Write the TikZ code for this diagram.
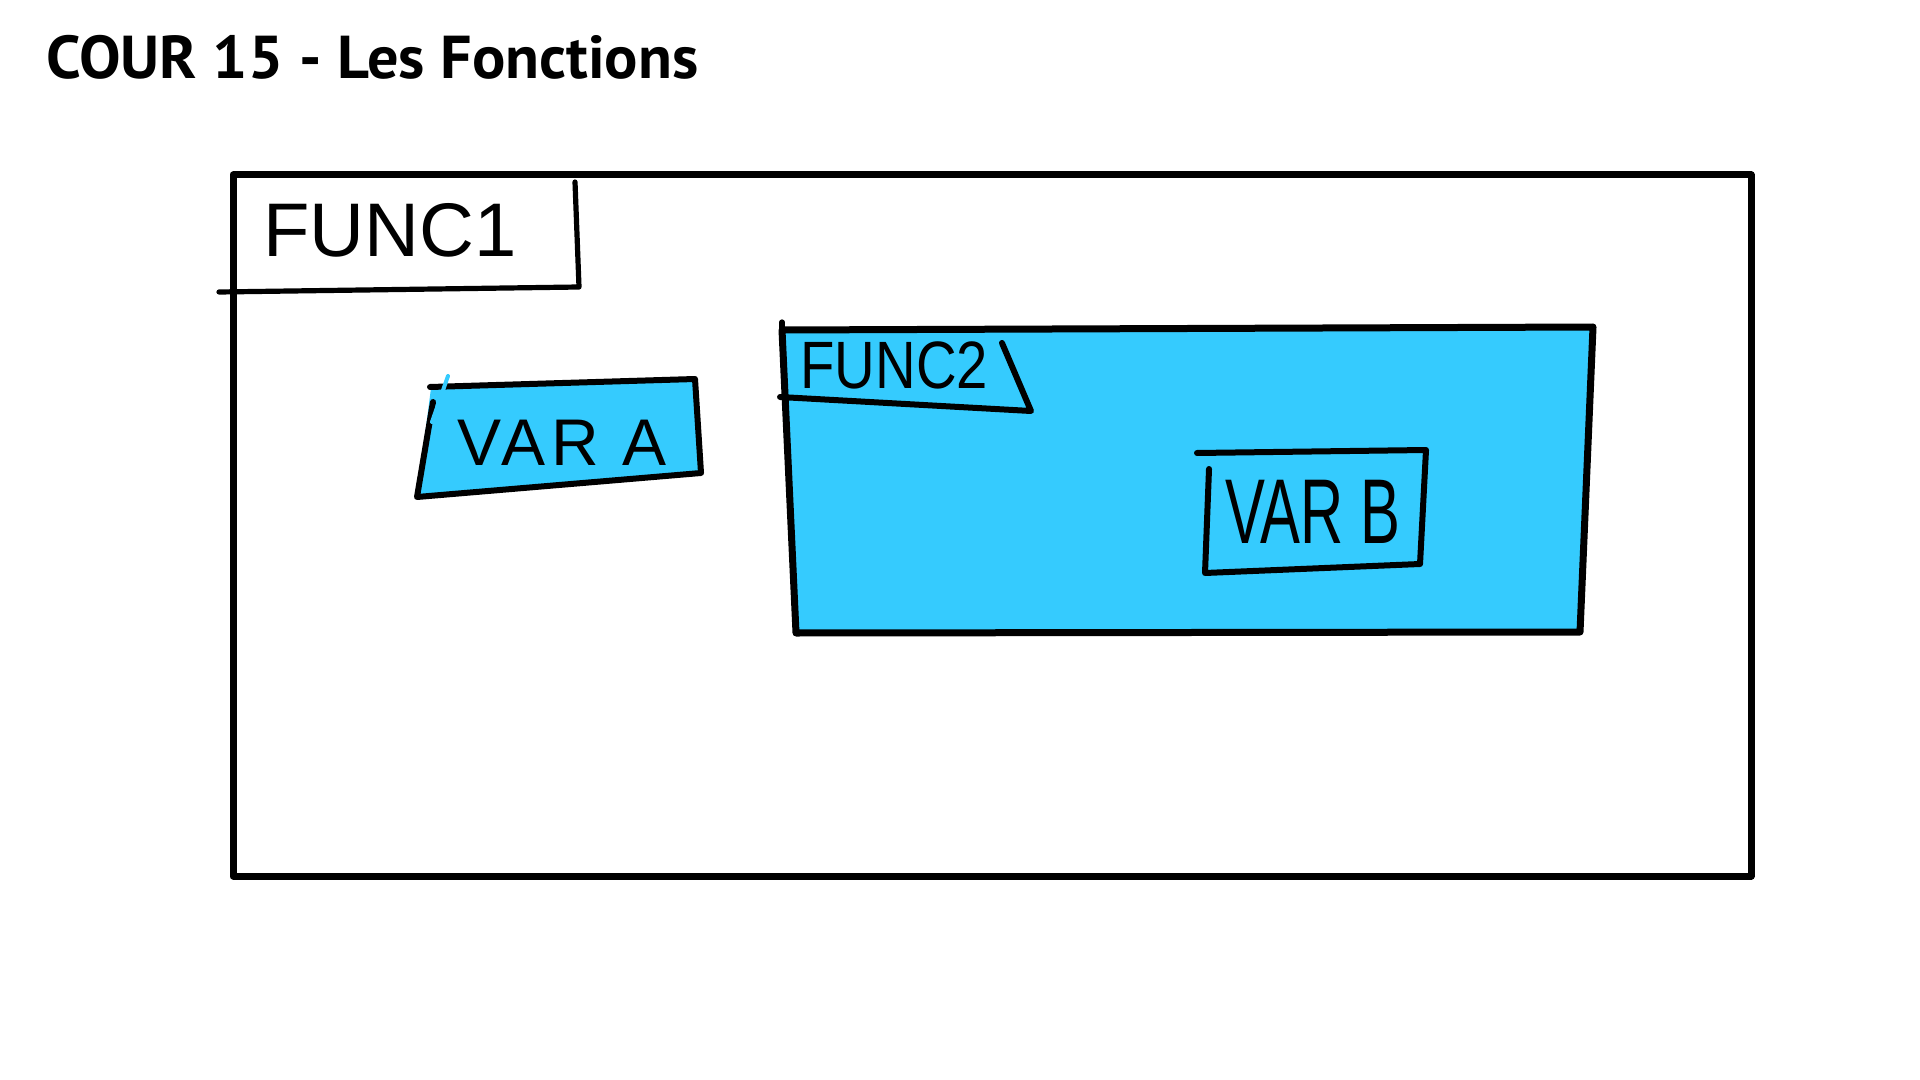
\documentclass[tikz,border=0pt]{standalone}
\usepackage{fontspec}
\setmainfont{Liberation Sans}
\newfontfamily\titlefont{PT Sans}
\newfontfamily\handfont{Liberation Sans}
\definecolor{cyanfill}{RGB}{53,203,254}
\tikzset{
  frame/.style={draw=black, line width=3.5pt, line join=round, line cap=round},
  stroke/.style={draw=black, line width=3pt, line join=round, line cap=round},
  thinstroke/.style={draw=black, line width=2.6pt, line join=round, line cap=round},
  boxfill/.style={fill=cyanfill},
  hand/.style={inner sep=0pt, anchor=base west, font=\handfont},
  titletext/.style={inner sep=0pt, anchor=base west, font=\titlefont\bfseries}
}
\begin{document}
\begin{tikzpicture}[x=0.5pt, y=-0.5pt]
\useasboundingbox (0,0) rectangle (1920,1080);
% title
\node[titletext] (title) at (46,79) {\resizebox{326pt}{21.6pt}{COUR 15 - Les Fonctions}};
% main frame
\draw[frame] (233,175) -- (1751,175) -- (1751,876) -- (233,876) -- cycle;
% FUNC1 tab
\draw[thinstroke] (575,182) -- (579,287) -- (219,292);
\node[hand] (func1) at (263,257) {\fontsize{38pt}{40pt}\selectfont FUNC1};
% VAR A
\fill[boxfill] (431,388) -- (695,379) -- (701,473) -- (417,497) -- cycle;
\draw[stroke] (430,387) -- (695,379) -- (701,473) -- (417,497) -- (433,402);
\draw[cyanfill, line width=2pt, line cap=round] (448,376) -- (432,422);
\node[hand] (vara) at (457,465) {\fontsize{33pt}{35pt}\selectfont \addfontfeatures{LetterSpace=8}VAR A};
% FUNC2 big box
\fill[boxfill] (782,330) -- (1593,327) -- (1580,632) -- (796,633) -- cycle;
\draw[thinstroke] (782,322) -- (782,331);
\draw[frame] (782,330) -- (1593,327) -- (1580,632) -- (796,633) -- cycle;
\draw[stroke] (780,397) -- (1031,411) -- (1002,343);
\node[hand] (func2) at (800,388) {\scalebox{0.84}[1]{\fontsize{33.5pt}{35pt}\selectfont FUNC2}};
% VAR B
\draw[stroke] (1197,453) -- (1426,450) -- (1420,564) -- (1205,573) -- (1209,469);
\node[hand] (varb) at (1225,543) {\scalebox{0.65}[1]{\fontsize{46pt}{48pt}\selectfont VAR B}};
\end{tikzpicture}
\end{document}
